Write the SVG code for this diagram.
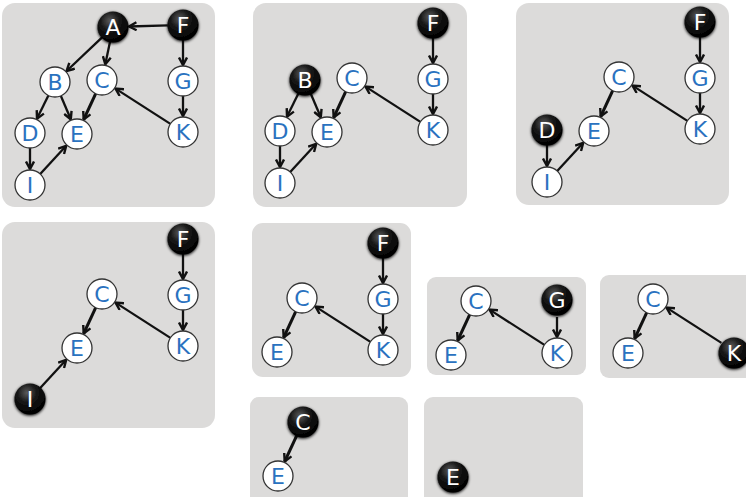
<svg xmlns="http://www.w3.org/2000/svg" width="746" height="497" viewBox="0 0 746 497">
<defs>
<style>
.panel{fill:#dcdbda}
.e{stroke:#111;stroke-width:2.3;fill:none;marker-end:url(#ah)}
.ce{stroke-width:3}
.wn{fill:#fff;stroke:#333;stroke-width:1.3}
.bn{fill:url(#bg);filter:url(#glow)}
.wt{font-family:"DejaVu Sans",Verdana,sans-serif;font-size:22px;fill:#2a72c0;text-anchor:middle}
.bt{font-family:"DejaVu Sans",Verdana,sans-serif;font-size:22px;fill:#fff;text-anchor:middle}
</style>
<radialGradient id="bg" cx="0.4" cy="0.3" r="0.7">
<stop offset="0" stop-color="#5a5a5a"/>
<stop offset="0.45" stop-color="#161616"/>
<stop offset="1" stop-color="#000"/>
</radialGradient>
<filter id="glow" x="-30%" y="-30%" width="160%" height="160%">
<feGaussianBlur in="SourceAlpha" stdDeviation="1.5" result="b"/>
<feOffset dy="1" in="b" result="o"/>
<feMerge><feMergeNode in="o"/><feMergeNode in="SourceGraphic"/></feMerge>
</filter>
<marker id="ah" viewBox="0 0 10 10" refX="8.5" refY="5" markerWidth="10" markerHeight="10" markerUnits="userSpaceOnUse" orient="auto">
<path d="M1,1 L8.5,5 L1,9" fill="none" stroke="#111" stroke-width="2.4"/>
</marker>
</defs>

<!-- Panel 1 -->
<g id="panel1">
<rect class="panel" x="2" y="3" width="213" height="204" rx="13"/>
<g id="p1-edges">
<path class="e" d="M168,25.4 L129,26.5"/>
<path class="e" d="M102.1,37.3 L66.6,71"/>
<path class="e" d="M110,41.7 L105.3,64.3"/>
<path class="e" d="M183,40 L183,65"/>
<path class="e" d="M48.4,95.5 L37,118.6"/>
<path class="e" d="M60.8,95.8 L70.8,119.3"/>
<path class="e ce" d="M95.7,93.6 L83.7,119.5"/>
<path class="e" d="M183,96 L183,116"/>
<path class="e" d="M170.4,123.9 L115.5,88.6"/>
<path class="e" d="M30,148 L30,169"/>
<path class="e" d="M40.2,174 L66.2,145.8"/>
</g>
<g id="p1-A"><circle class="bn" cx="113" cy="27" r="15.5"/><text class="bt" x="113" y="35">A</text></g>
<g id="p1-F"><circle class="bn" cx="183" cy="25" r="15.5"/><text class="bt" x="183" y="33">F</text></g>
<g id="p1-B"><circle class="wn" cx="55" cy="82" r="15"/><text class="wt" x="55" y="90">B</text></g>
<g id="p1-C"><circle class="wn" cx="102" cy="80" r="15"/><text class="wt" x="102" y="88">C</text></g>
<g id="p1-G"><circle class="wn" cx="183" cy="81" r="15"/><text class="wt" x="183" y="89">G</text></g>
<g id="p1-D"><circle class="wn" cx="30" cy="133" r="15"/><text class="wt" x="30" y="141">D</text></g>
<g id="p1-E"><circle class="wn" cx="77" cy="134" r="15"/><text class="wt" x="77" y="142">E</text></g>
<g id="p1-K"><circle class="wn" cx="183" cy="132" r="15"/><text class="wt" x="183" y="140">K</text></g>
<g id="p1-I"><circle class="wn" cx="30" cy="185" r="15"/><text class="wt" x="30" y="193">I</text></g>
</g>

<!-- Panel 2 -->
<g id="panel2" transform="translate(250,-2)">
<rect class="panel" x="3" y="5" width="214" height="204" rx="13"/>
<g id="p2-edges">
<path class="e" d="M183,40 L183,65"/>
<path class="e" d="M183,96 L183,116"/>
<path class="e" d="M170.4,123.9 L115.5,88.6"/>
<path class="e" d="M48.4,95.5 L37,118.6"/>
<path class="e" d="M60.8,95.8 L70.8,119.3"/>
<path class="e ce" d="M95.7,93.6 L83.7,119.5"/>
<path class="e" d="M30,148 L30,169"/>
<path class="e" d="M40.2,174 L66.2,145.8"/>
</g>
<g id="p2-F"><circle class="bn" cx="183" cy="25" r="15.5"/><text class="bt" x="183" y="33">F</text></g>
<g id="p2-B"><circle class="bn" cx="55" cy="82" r="15.5"/><text class="bt" x="55" y="90">B</text></g>
<g id="p2-C"><circle class="wn" cx="102" cy="80" r="15"/><text class="wt" x="102" y="88">C</text></g>
<g id="p2-G"><circle class="wn" cx="183" cy="81" r="15"/><text class="wt" x="183" y="89">G</text></g>
<g id="p2-D"><circle class="wn" cx="30" cy="133" r="15"/><text class="wt" x="30" y="141">D</text></g>
<g id="p2-E"><circle class="wn" cx="77" cy="134" r="15"/><text class="wt" x="77" y="142">E</text></g>
<g id="p2-K"><circle class="wn" cx="183" cy="132" r="15"/><text class="wt" x="183" y="140">K</text></g>
<g id="p2-I"><circle class="wn" cx="30" cy="185" r="15"/><text class="wt" x="30" y="193">I</text></g>
</g>

<!-- Panel 3 -->
<g id="panel3" transform="translate(517,-3)">
<rect class="panel" x="-1" y="6" width="213" height="202" rx="13"/>
<g id="p3-edges">
<path class="e" d="M183,40 L183,65"/>
<path class="e" d="M183,96 L183,116"/>
<path class="e" d="M170.4,123.9 L115.5,88.6"/>
<path class="e ce" d="M95.7,93.6 L83.7,119.5"/>
<path class="e" d="M30,148 L30,169"/>
<path class="e" d="M40.2,174 L66.2,145.8"/>
</g>
<g id="p3-F"><circle class="bn" cx="183" cy="25" r="15.5"/><text class="bt" x="183" y="33">F</text></g>
<g id="p3-C"><circle class="wn" cx="102" cy="80" r="15"/><text class="wt" x="102" y="88">C</text></g>
<g id="p3-G"><circle class="wn" cx="183" cy="81" r="15"/><text class="wt" x="183" y="89">G</text></g>
<g id="p3-D"><circle class="bn" cx="30" cy="133" r="15.5"/><text class="bt" x="30" y="141">D</text></g>
<g id="p3-E"><circle class="wn" cx="77" cy="134" r="15"/><text class="wt" x="77" y="142">E</text></g>
<g id="p3-K"><circle class="wn" cx="183" cy="132" r="15"/><text class="wt" x="183" y="140">K</text></g>
<g id="p3-I"><circle class="wn" cx="30" cy="185" r="15"/><text class="wt" x="30" y="193">I</text></g>
</g>

<!-- Panel 4 -->
<g id="panel4" transform="translate(0,214)">
<rect class="panel" x="2" y="8" width="213" height="206" rx="13"/>
<g id="p4-edges">
<path class="e" d="M183,40 L183,65"/>
<path class="e" d="M183,96 L183,116"/>
<path class="e" d="M170.4,123.9 L115.5,88.6"/>
<path class="e ce" d="M95.7,93.6 L83.7,119.5"/>
<path class="e" d="M40.2,174 L66.2,145.8"/>
</g>
<g id="p4-F"><circle class="bn" cx="183" cy="25" r="15.5"/><text class="bt" x="183" y="33">F</text></g>
<g id="p4-C"><circle class="wn" cx="102" cy="80" r="15"/><text class="wt" x="102" y="88">C</text></g>
<g id="p4-G"><circle class="wn" cx="183" cy="81" r="15"/><text class="wt" x="183" y="89">G</text></g>
<g id="p4-E"><circle class="wn" cx="77" cy="134" r="15"/><text class="wt" x="77" y="142">E</text></g>
<g id="p4-K"><circle class="wn" cx="183" cy="132" r="15"/><text class="wt" x="183" y="140">K</text></g>
<g id="p4-I"><circle class="bn" cx="30" cy="185" r="15.5"/><text class="bt" x="30" y="193">I</text></g>
</g>

<!-- Panel 5 -->
<g id="panel5" transform="translate(200,218)">
<rect class="panel" x="52" y="5" width="159" height="154" rx="11"/>
<g id="p5-edges">
<path class="e" d="M183,40 L183,65"/>
<path class="e" d="M183,96 L183,116"/>
<path class="e" d="M170.4,123.9 L115.5,88.6"/>
<path class="e ce" d="M95.7,93.6 L83.7,119.5"/>
</g>
<g id="p5-F"><circle class="bn" cx="183" cy="25" r="15.5"/><text class="bt" x="183" y="33">F</text></g>
<g id="p5-C"><circle class="wn" cx="102" cy="80" r="15"/><text class="wt" x="102" y="88">C</text></g>
<g id="p5-G"><circle class="wn" cx="183" cy="81" r="15"/><text class="wt" x="183" y="89">G</text></g>
<g id="p5-E"><circle class="wn" cx="77" cy="134" r="15"/><text class="wt" x="77" y="142">E</text></g>
<g id="p5-K"><circle class="wn" cx="183" cy="132" r="15"/><text class="wt" x="183" y="140">K</text></g>
</g>

<!-- Panel 6 -->
<g id="panel6" transform="translate(374,221)">
<rect class="panel" x="53" y="56" width="159" height="98" rx="9"/>
<g id="p6-edges">
<path class="e" d="M183,96 L183,116"/>
<path class="e" d="M170.4,123.9 L115.5,88.6"/>
<path class="e ce" d="M95.7,93.6 L83.7,119.5"/>
</g>
<g id="p6-C"><circle class="wn" cx="102" cy="80" r="15"/><text class="wt" x="102" y="88">C</text></g>
<g id="p6-G"><circle class="bn" cx="183" cy="79" r="15.5"/><text class="bt" x="183" y="87">G</text></g>
<g id="p6-E"><circle class="wn" cx="77" cy="134" r="15"/><text class="wt" x="77" y="142">E</text></g>
<g id="p6-K"><circle class="wn" cx="183" cy="132" r="15"/><text class="wt" x="183" y="140">K</text></g>
</g>

<!-- Panel 7 -->
<g id="panel7" transform="translate(551,219)">
<rect class="panel" x="49" y="56" width="160" height="103" rx="9"/>
<g id="p7-edges">
<path class="e" d="M170.4,123.9 L115.5,88.6"/>
<path class="e ce" d="M95.7,93.6 L83.7,119.5"/>
</g>
<g id="p7-C"><circle class="wn" cx="102" cy="80" r="15"/><text class="wt" x="102" y="88">C</text></g>
<g id="p7-E"><circle class="wn" cx="77" cy="134" r="15"/><text class="wt" x="77" y="142">E</text></g>
<g id="p7-K"><circle class="bn" cx="183" cy="134" r="15.5"/><text class="bt" x="183" y="142">K</text></g>
</g>

<!-- Panel 8 -->
<g id="panel8" transform="translate(201,342)">
<rect class="panel" x="49" y="55" width="158" height="120" rx="9"/>
<g id="p8-edges">
<path class="e ce" d="M95.7,93.6 L83.7,119.5"/>
</g>
<g id="p8-C"><circle class="bn" cx="102" cy="80" r="15.5"/><text class="bt" x="102" y="88">C</text></g>
<g id="p8-E"><circle class="wn" cx="77" cy="134" r="15"/><text class="wt" x="77" y="142">E</text></g>
</g>

<!-- Panel 9 -->
<g id="panel9" transform="translate(376,343)">
<rect class="panel" x="48" y="54" width="159" height="120" rx="9"/>
<g id="p9-E"><circle class="bn" cx="77" cy="134" r="15.5"/><text class="bt" x="77" y="142">E</text></g>
</g>
</svg>
